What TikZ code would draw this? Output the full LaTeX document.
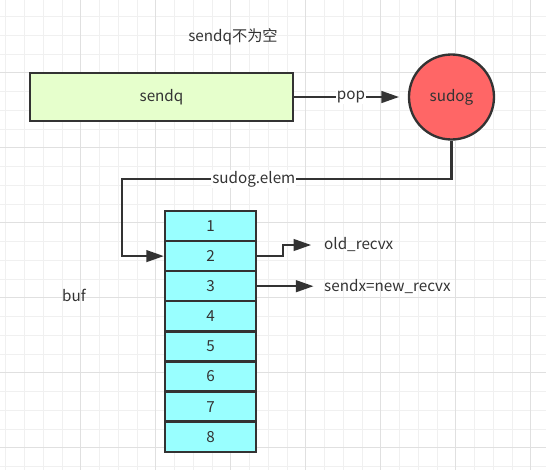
\documentclass[tikz,border=0pt]{standalone}
\usepackage{fontspec}
\setmainfont{Noto Sans CJK SC}
\usetikzlibrary{arrows.meta}

\definecolor{inkgray}{HTML}{333333}
\definecolor{queuegreen}{HTML}{E6FFCC}
\definecolor{sudogred}{HTML}{FF6666}
\definecolor{bufcyan}{HTML}{99FFFF}
\definecolor{gridminor}{HTML}{F0F0F0}
\definecolor{gridmajor}{HTML}{E0E0E0}

\begin{document}
\begin{tikzpicture}[
    x=0.03cm, y=-0.03cm,
    font=\fontsize{13}{15.5}\selectfont,
    text=inkgray,
    queue/.style={
        rectangle,
        draw=inkgray,
        fill=queuegreen,
        line width=2pt,
        minimum width=7.89cm,
        minimum height=1.44cm
    },
    waiter/.style={
        circle,
        draw=inkgray,
        fill=sudogred,
        line width=2pt,
        minimum size=2.55cm
    },
    cell/.style={
        rectangle,
        draw=inkgray,
        fill=bufcyan,
        line width=2pt,
        minimum width=2.73cm,
        minimum height=0.903cm
    },
    plain/.style={inner sep=3pt},
    lbl/.style={fill=white, inner sep=1pt},
    flow/.style={
        draw=inkgray,
        line width=1.8pt,
        -{Triangle[length=15pt, width=10pt]}
    }
]

\useasboundingbox (0,0) rectangle (546,470);

% Background grid
\foreach \gx in {5.7,24.45,...,546} \draw[gridminor, line width=0.7pt] (\gx,0) -- (\gx,470);
\foreach \gy in {-2.3,16.45,...,470} \draw[gridminor, line width=0.7pt] (0,\gy) -- (546,\gy);
\foreach \gx in {80.7,155.7,...,546} \draw[gridmajor, line width=0.8pt] (\gx,0) -- (\gx,470);
\foreach \gy in {72.7,147.7,...,470} \draw[gridmajor, line width=0.8pt] (0,\gy) -- (546,\gy);

% Nodes
\node[plain] (title) at (233,37) {sendq不为空};
\node[queue] (sendq) at (161.5,97) {sendq};
\node[waiter] (sudog) at (451.5,97) {sudog};
\node[plain] (buf) at (74,295) {buf};

\node[cell] (c1) at (210.5,226) {1};
\node[cell] (c2) at (210.5,256.1) {2};
\node[cell] (c3) at (210.5,286.2) {3};
\node[cell] (c4) at (210.5,316.3) {4};
\node[cell] (c5) at (210.5,346.4) {5};
\node[cell] (c6) at (210.5,376.5) {6};
\node[cell] (c7) at (210.5,406.6) {7};
\node[cell] (c8) at (210.5,436.7) {8};

\node[plain, anchor=west] (oldrecvx) at (320.5,245) {old\_recvx};
\node[plain, anchor=west] (sendx) at (320.5,286.2) {sendx=new\_recvx};

\coordinate (elembend) at (122,179);
\coordinate (oldstep) at (283,245);

% Edges
\draw[flow, shorten >=7.5pt] (sendq) -- node[lbl] {pop} (sudog);
\draw[flow] (sudog.south) |- node[lbl, pos=0.8] {sudog.elem} (elembend) |- (c2.west);
\draw[flow, shorten >=8pt] (c2.east) -| (oldstep) -- (oldrecvx.west);
\draw[flow, shorten >=6pt] (c3.east) -- (sendx.west);

\end{tikzpicture}
\end{document}
